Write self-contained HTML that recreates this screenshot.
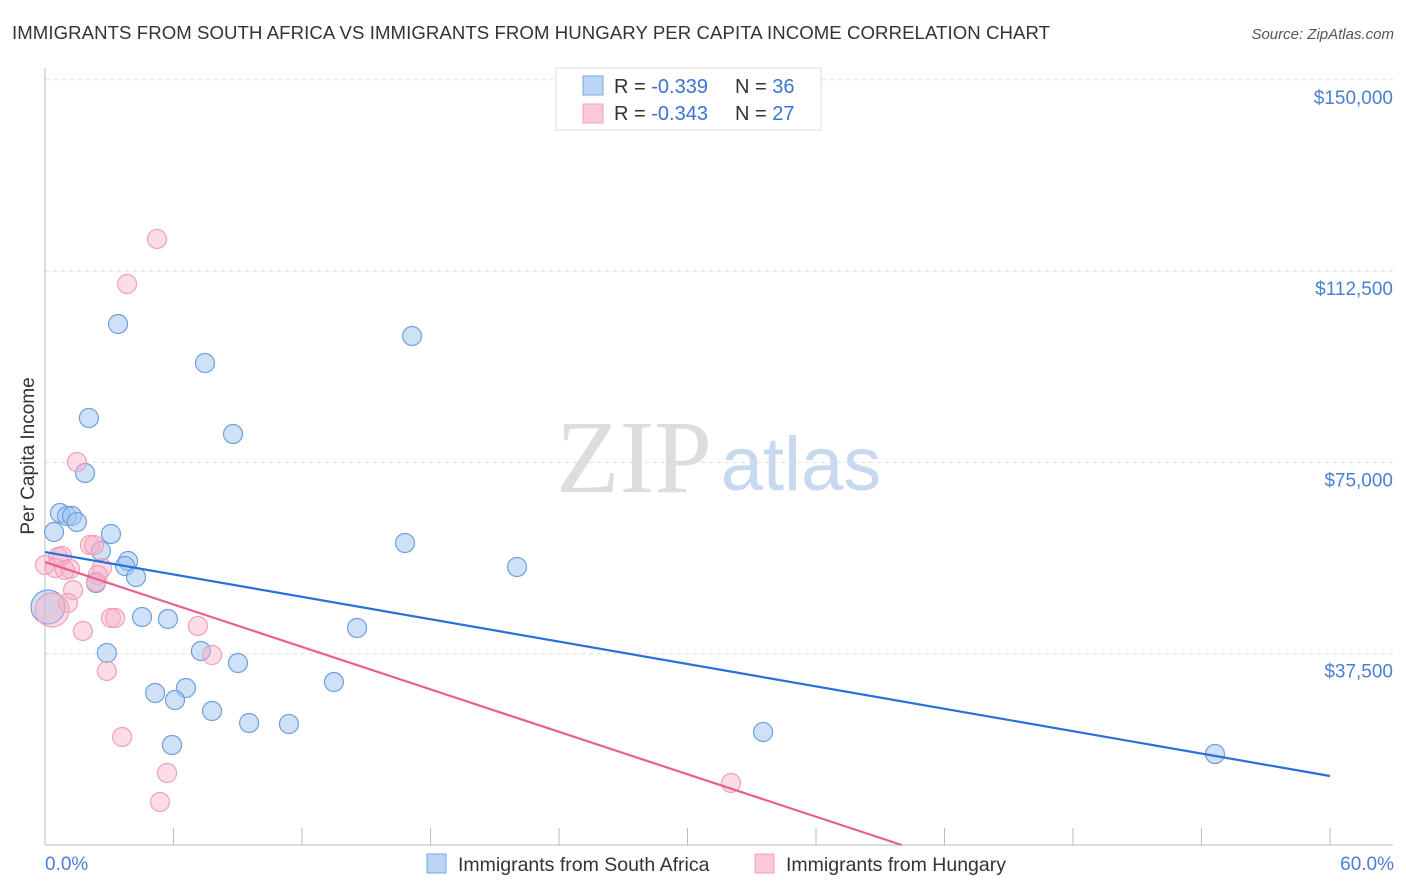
<!DOCTYPE html>
<html><head><meta charset="utf-8"><style>
body{margin:0;background:#fff;font-family:"Liberation Sans",sans-serif;}
svg{display:block}
</style></head><body>
<svg id="chart" width="1406" height="892">
<text x="12" y="39" font-size="18.6" fill="#333" textLength="1038">IMMIGRANTS FROM SOUTH AFRICA VS IMMIGRANTS FROM HUNGARY PER CAPITA INCOME CORRELATION CHART</text>
<text x="1394" y="39" font-size="15" fill="#555" font-style="italic" text-anchor="end">Source: ZipAtlas.com</text>
<g>
<text x="634" y="492" font-size="104" fill="#ddd" font-family="Liberation Serif,serif" text-anchor="middle">ZIP</text>
<text x="801" y="490" font-size="76" fill="#c8d8ee" text-anchor="middle">atlas</text>
</g>
<g id="grid"></g><g id="axes"></g><g id="pts"></g><g id="trend"></g>
<text transform="translate(34,456) rotate(-90)" font-size="19" fill="#333" text-anchor="middle">Per Capita Income</text>
<text x="45" y="870" font-size="19" fill="#4a7fd4">0.0%</text>
<text x="1394" y="870" font-size="19" fill="#4a7fd4" text-anchor="end">60.0%</text>
<g>
<rect x="556" y="68" width="265" height="62" fill="#fff" stroke="#ddd"/>
<rect x="583" y="76" width="20" height="19" fill="#bcd4f6" stroke="#7aa6e6"/>
<rect x="583" y="104" width="20" height="19" fill="#fcc8d8" stroke="#f0a0b8"/>
<text x="614" y="93" font-size="20" fill="#333">R = <tspan fill="#3b73d4">-0.339</tspan><tspan x="735">N = </tspan><tspan fill="#3b73d4">36</tspan></text>
<text x="614" y="120" font-size="20" fill="#333">R = <tspan fill="#3b73d4">-0.343</tspan><tspan x="735">N = </tspan><tspan fill="#3b73d4">27</tspan></text>
</g>
<g>
<rect x="427" y="854" width="19" height="19" fill="#bcd4f6" stroke="#7aa6e6"/>
<text x="458" y="871" font-size="19.5" fill="#333">Immigrants from South Africa</text>
<rect x="755" y="854" width="19" height="19" fill="#fcc8d8" stroke="#f0a0b8"/>
<text x="786" y="871" font-size="19.5" fill="#333">Immigrants from Hungary</text>
</g>
</svg>
<script>
const yTicks=[37500,75000,112500,150000];
const yTickLabels=["$37,500","$75,000","$112,500","$150,000"];
const blueX=[3.41,17.14,7.47,2.05,8.78,1.87,0.70,1.03,1.26,1.49,0.42,3.08,2.61,3.88,3.74,4.25,2.38,16.81,22.04,4.53,5.74,14.57,2.89,7.28,9.01,13.49,5.14,6.58,6.07,7.80,9.53,11.39,5.93,33.53,54.63,0.14];
const blueY=[102130,99780,94490,83710,80570,72920,65080,64490,64490,63320,61360,60970,57640,55670,54690,52540,51360,59200,54500,44700,44300,42540,37640,38030,35680,31950,29800,30780,28420,26270,23920,23720,19600,22150,17840,46660];
const pinkX=[5.23,3.83,1.49,2.10,2.29,0.61,0.79,0.47,1.17,0.93,2.66,2.47,2.38,1.31,1.07,0.33,1.77,3.08,3.27,7.14,7.80,2.89,3.60,5.70,5.37,32.03,0.00];
const pinkY=[118800,109970,75080,58810,58810,56460,56650,54300,54100,53910,54300,52930,51560,49990,47440,46070,41950,44500,44500,42930,37240,34110,21170,14110,8430,12150,54890];
const blueTrendX=[0,60],blueTrendY=[57430,13530];
const pinkTrendX=[0,40],pinkTrendY=[55470,0];
const NS="http://www.w3.org/2000/svg";
const sx=v=>45+v/60*1285, sy=v=>845-v/37500*191.3;
function mk(tag,attrs,parent){const e=document.createElementNS(NS,tag);for(const k in attrs)e.setAttribute(k,attrs[k]);parent.appendChild(e);return e;}
const grid=document.getElementById('grid'),axes=document.getElementById('axes'),pts=document.getElementById('pts'),trend=document.getElementById('trend');
yTicks.forEach((t,i)=>{
 const l=mk('line',{x1:45,x2:1393,y1:sy(t),y2:sy(t),stroke:'#ddd','stroke-dasharray':'4,4'},grid);
 
 
 const tx=mk('text',{x:1393,y:sy(t)+24,'font-size':19,fill:'#4a7fd4','text-anchor':'end'},grid);
 tx.textContent=yTickLabels[i];
 
 
});
const ya=mk('line',{x1:45,x2:45,y1:68,y2:845,stroke:'#bbb'},axes);


const xa=mk('line',{x1:45,x2:1393,y1:845,y2:845,stroke:'#bbb'},axes);


for(let i=0;i<=10;i++){const t=mk('line',{x1:sx(i*6),x2:sx(i*6),y1:828,y2:845,stroke:'#bbb'},axes);
 
 }
function dots(X,Y,fill,stroke,name,bigIdx){
 X.forEach((x,i)=>{const c=mk('circle',{cx:sx(x),cy:sy(Y[i]),r:i===bigIdx?17:9.5,fill:fill,stroke:stroke,'stroke-width':1.2},pts);
 
 });
}
dots(blueX,blueY,'rgba(160,195,240,0.5)','#6f9fe0','point-south-africa',35);
dots(pinkX,pinkY,'rgba(248,175,198,0.42)','#f0a0b8','point-hungary',15);
const bl=mk('line',{x1:sx(blueTrendX[0]),y1:sy(blueTrendY[0]),x2:sx(blueTrendX[1]),y2:sy(blueTrendY[1]),stroke:'#2a6fdb','stroke-width':2.2},trend);


const pl=mk('line',{x1:sx(pinkTrendX[0]),y1:sy(pinkTrendY[0]),x2:sx(pinkTrendX[1]),y2:sy(pinkTrendY[1]),stroke:'#e8608e','stroke-width':2.2},trend);


</script>
</body></html>
